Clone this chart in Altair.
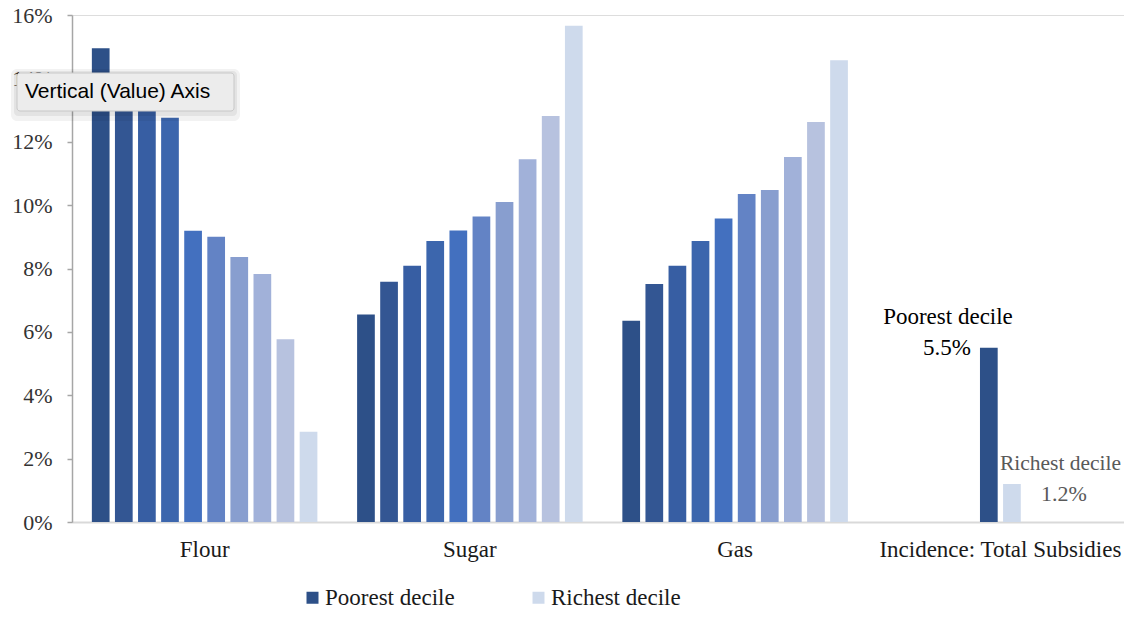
import altair as alt
import pandas as pd

# ---- data ----
groups = ["Flour", "Sugar", "Gas", "Incidence: Total Subsidies"]
deciles = ["Decile 1", "Decile 2", "Decile 3", "Decile 4", "Decile 5",
           "Decile 6", "Decile 7", "Decile 8", "Decile 9", "Decile 10"]
slots = ["1", "2", "3", "4", "5", "6", "7", "8", "9", "10"]

flour = [14.95, 13.9, 13.4, 12.76, 9.19, 9.0, 8.36, 7.83, 5.77, 2.85]
sugar = [6.55, 7.58, 8.09, 8.87, 9.20, 9.64, 10.10, 11.45, 12.81, 15.66]
gas = [6.35, 7.51, 8.09, 8.87, 9.58, 10.35, 10.48, 11.52, 12.62, 14.57]

incidence_deciles = ["Decile 1", "Decile 10"]
incidence_slots = ["5", "6"]
incidence_values = [5.5, 1.2]
incidence_names = ["Poorest decile", "Richest decile"]
incidence_pct = ["5.5%", "1.2%"]

y_ticks = [0, 2, 4, 6, 8, 10, 12, 14, 16]
legend_labels = ["Poorest decile", "Richest decile"]
tooltip_text = ["Vertical (Value) Axis"]

colors = ["#2D5088", "#335693", "#375EA3", "#3C66AD", "#4370BF",
          "#6383C5", "#889ECF", "#A1B1D9", "#B7C2DF", "#CEDAEC"]

# ---- tables ----
rows = []
for g, vals in zip(groups[:3], [flour, sugar, gas]):
    for d, s, v in zip(deciles, slots, vals):
        rows.append({"group": g, "decile": d, "slot": s, "value": v, "name": "", "pct": ""})
for d, s, v, n, p in zip(incidence_deciles, incidence_slots, incidence_values,
                         incidence_names, incidence_pct):
    rows.append({"group": groups[3], "decile": d, "slot": s, "value": v, "name": n, "pct": p})
df = pd.DataFrame(rows)

SERIF = "Liberation Serif"

x_enc = alt.X("group:N",
              scale=alt.Scale(domain=groups, paddingInner=0, paddingOuter=0, range=[0, 1061]),
              axis=alt.Axis(title=None, ticks=False, labelAngle=0, labelLimit=0,
                            labelFont=SERIF, labelFontSize=23, labelColor="#1a1a1a",
                            labelPadding=16, domainColor="#d9d9d9", domainWidth=2))
xo_enc = alt.XOffset("slot:N",
                     scale=alt.Scale(domain=slots, paddingInner=0.233, paddingOuter=0.86))
y_enc = alt.Y("value:Q",
              scale=alt.Scale(domain=[0, 16], nice=False),
              axis=alt.Axis(title=None, values=y_ticks, grid=False,
                            labelExpr="datum.value + '%'",
                            labelFont=SERIF, labelFontSize=22, labelColor="#333333",
                            labelPadding=15, tickSize=5, tickColor="#a6a6a6",
                            domainColor="#a6a6a6", domainWidth=1.5, tickWidth=1.5))

legend_expr = ("datum.value == '%s' ? '%s' : '%s'"
               % (deciles[0], legend_labels[0], legend_labels[1]))

bars = alt.Chart(df).mark_bar().encode(
    x=x_enc,
    xOffset=xo_enc,
    y=y_enc,
    color=alt.Color("decile:N",
                    scale=alt.Scale(domain=deciles, range=colors),
                    legend=alt.Legend(values=[deciles[0], deciles[-1]],
                                      labelExpr=legend_expr,
                                      orient="none", legendX=229, legendY=571,
                                      direction="horizontal", title=None,
                                      symbolType="square", symbolSize=144,
                                      symbolStrokeWidth=0, symbolOpacity=1,
                                      labelFont=SERIF, labelFontSize=23,
                                      labelColor="#1a1a1a", labelOffset=1,
                                      columnPadding=72, padding=0)),
)

base_inc = alt.Chart(df).transform_filter(alt.datum.name != "")

poor_name = base_inc.transform_filter(alt.datum.decile == deciles[0]).mark_text(
    align="right", baseline="middle", dx=24, dy=-31,
    font=SERIF, fontSize=23, color="#000000"
).encode(x=alt.X("group:N"), xOffset=alt.XOffset("slot:N"), y="value:Q", text="name:N")

poor_pct = base_inc.transform_filter(alt.datum.decile == deciles[0]).mark_text(
    align="right", baseline="middle", dx=-18, dy=0,
    font=SERIF, fontSize=23, color="#000000"
).encode(x=alt.X("group:N"), xOffset=alt.XOffset("slot:N"), y="value:Q", text="pct:N")

rich_name = base_inc.transform_filter(alt.datum.decile == deciles[-1]).mark_text(
    align="left", baseline="middle", dx=-12, dy=-20,
    font=SERIF, fontSize=21.5, color="#595959"
).encode(x=alt.X("group:N"), xOffset=alt.XOffset("slot:N"), y="value:Q", text="name:N")

rich_pct = base_inc.transform_filter(alt.datum.decile == deciles[-1]).mark_text(
    align="left", baseline="middle", dx=29, dy=10,
    font=SERIF, fontSize=22, color="#595959"
).encode(x=alt.X("group:N"), xOffset=alt.XOffset("slot:N"), y="value:Q", text="pct:N")

# ---- the hover tooltip seen in the screenshot ----
tip_df = pd.DataFrame({"t": tooltip_text})
tip_shadow = alt.Chart(tip_df).mark_rect(color="#000000", opacity=0.05, cornerRadius=6).encode(
    x=alt.value(-61), x2=alt.value(168), y=alt.value(54), y2=alt.value(106))
tip_shadow2 = alt.Chart(tip_df).mark_rect(color="#000000", opacity=0.06, cornerRadius=4).encode(
    x=alt.value(-58), x2=alt.value(165), y=alt.value(56), y2=alt.value(101))
tip_box = alt.Chart(tip_df).mark_rect(fill="#ECECEC", stroke="#C8C8C8", strokeWidth=1,
                                      cornerRadius=3).encode(
    x=alt.value(-55), x2=alt.value(162), y=alt.value(58), y2=alt.value(96))
tip_text = alt.Chart(tip_df).mark_text(align="left", baseline="middle",
                                       font="Liberation Sans", fontSize=21,
                                       color="#000000").encode(
    x=alt.value(-47), y=alt.value(77), text="t:N")

chart = alt.layer(
    bars, poor_name, poor_pct, rich_name, rich_pct,
    tip_shadow, tip_shadow2, tip_box, tip_text
).properties(
    width=1052, height=507,
    padding={"left": 64, "top": 7, "right": 0, "bottom": 89},
    autosize="none",
).configure_view(stroke=None).configure(background="#ffffff")

chart.save("out.html", embed_options={"renderer": "svg", "actions": False})
